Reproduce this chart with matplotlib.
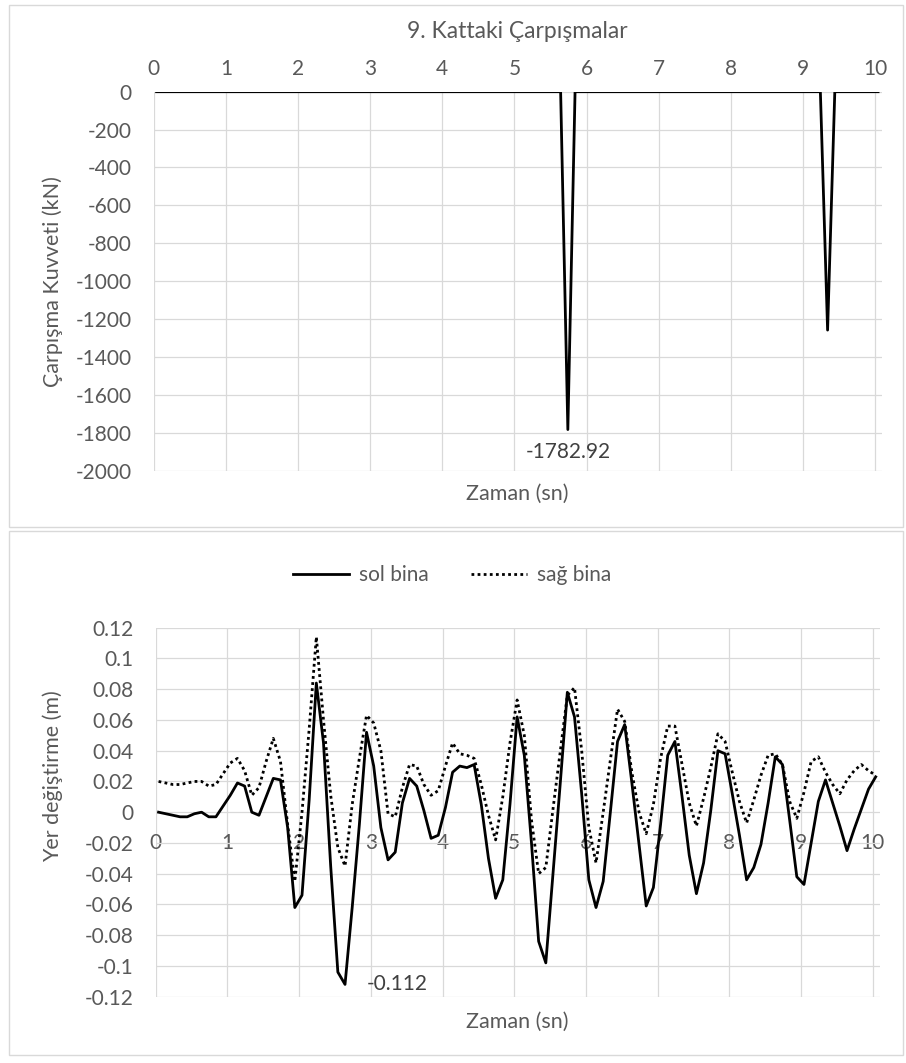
import numpy as np
import matplotlib.pyplot as plt
from matplotlib.patches import Rectangle
from matplotlib.lines import Line2D

plt.rcParams['font.family'] = ['Lato', 'DejaVu Sans']
plt.rcParams['axes.unicode_minus'] = False

# sample times (s), one sample every 0.1 s
zaman = np.round(0.04 + 0.1 * np.arange(101), 2)

# collision force at floor 9 (kN): zero except the two impacts
kuvvet = [0.0] * 57 + [-1782.92] + [0.0] * 35 + [-1258.0] + [0.0] * 7

# displacements (m)
sol_bina = [
    0.000, -0.001, -0.002, -0.003, -0.003, -0.001, 0.000, -0.003, -0.003, 0.004,
    0.011, 0.019, 0.017, 0.000, -0.002, 0.010, 0.022, 0.021, -0.010, -0.062,
    -0.054, 0.008, 0.084, 0.045, -0.035, -0.104, -0.112, -0.062, -0.008, 0.052,
    0.030, -0.010, -0.031, -0.026, 0.006, 0.022, 0.017, 0.001, -0.017, -0.015,
    0.003, 0.026, 0.030, 0.029, 0.031, 0.005, -0.030, -0.056, -0.044, 0.005,
    0.062, 0.037, -0.020, -0.084, -0.098, -0.040, 0.018, 0.078, 0.062, 0.012,
    -0.044, -0.062, -0.045, 0.000, 0.046, 0.057, 0.019, -0.021, -0.061, -0.049,
    -0.008, 0.037, 0.046, 0.010, -0.028, -0.053, -0.033, 0.001, 0.040, 0.038,
    0.012, -0.015, -0.044, -0.036, -0.021, 0.006, 0.036, 0.031, -0.005, -0.042,
    -0.047, -0.020, 0.007, 0.021, 0.006, -0.009, -0.025, -0.011, 0.002, 0.015,
    0.023,
]
sag_bina = [
    0.020, 0.019, 0.018, 0.018, 0.019, 0.020, 0.020, 0.017, 0.018, 0.025,
    0.032, 0.035, 0.027, 0.011, 0.016, 0.033, 0.048, 0.033, -0.008, -0.045,
    0.000, 0.054, 0.114, 0.060, 0.011, -0.023, -0.035, 0.005, 0.035, 0.063,
    0.058, 0.040, -0.001, -0.003, 0.016, 0.031, 0.030, 0.018, 0.011, 0.014,
    0.030, 0.045, 0.038, 0.037, 0.035, 0.018, -0.002, -0.018, 0.010, 0.045,
    0.073, 0.050, -0.005, -0.040, -0.036, 0.002, 0.039, 0.076, 0.081, 0.040,
    -0.010, -0.033, 0.000, 0.034, 0.067, 0.059, 0.026, 0.000, -0.014, 0.005,
    0.035, 0.056, 0.056, 0.031, 0.006, -0.009, 0.009, 0.029, 0.051, 0.046,
    0.026, 0.007, -0.007, 0.008, 0.024, 0.037, 0.038, 0.031, 0.007, -0.004,
    0.013, 0.033, 0.036, 0.026, 0.018, 0.012, 0.021, 0.027, 0.031, 0.027,
    0.024,
]

x_ticks = list(range(11))
kuvvet_ticks = list(range(-2000, 1, 200))
yer_ticks = [-0.12, -0.1, -0.08, -0.06, -0.04, -0.02, 0, 0.02, 0.04, 0.06, 0.08, 0.1, 0.12]
yer_labels = ['-0.12', '-0.1', '-0.08', '-0.06', '-0.04', '-0.02', '0',
              '0.02', '0.04', '0.06', '0.08', '0.1', '0.12']

GRAY = '#595959'
GRID = '#D9D9D9'
TICK_FS = 15
LABEL_FS = 15.5
W, H = 906, 1063


def box(x0, y0, x1, y1):
    return [x0 / W, 1 - y1 / H, (x1 - x0) / W, (y1 - y0) / H]


fig = plt.figure(figsize=(W / 100, H / 100), dpi=100)

# panel frames
for y0, y1 in [(5, 527), (531, 1055)]:
    fig.patches.append(Rectangle((9 / W, 1 - y1 / H), 894 / W, (y1 - y0) / H,
                                 transform=fig.transFigure, fill=False,
                                 ec=GRID, lw=1))

# top chart: collision force
ax1 = fig.add_axes(box(153.7, 91.7, 881.7, 470.7))
ax1.plot(zaman, kuvvet, color='black', lw=2)
ax1.set_xlim(0, 10.09)
ax1.set_ylim(-2000, 0)
ax1.set_xticks(x_ticks)
ax1.set_yticks(kuvvet_ticks)
ax1.xaxis.tick_top()
ax1.grid(color=GRID, lw=0.9)
ax1.set_axisbelow(True)
for s in ax1.spines.values():
    s.set_visible(False)
ax1.tick_params(length=0, labelsize=TICK_FS, colors=GRAY)
ax1.tick_params(axis='y', pad=16)
ax1.tick_params(axis='x', pad=9)
ax1.annotate('-1782.92', xy=(zaman[57], kuvvet[57]), xytext=(0, -16),
             textcoords='offset points', ha='center', va='center',
             fontsize=TICK_FS, color='#404040')

fig.text(517 / W, 1 - 32 / H, '9. Kattaki Çarpışmalar', ha='center', va='center',
         fontsize=16.5, color=GRAY)
fig.text(517 / W, 1 - 494 / H, 'Zaman (sn)', ha='center', va='center',
         fontsize=LABEL_FS, color=GRAY)
fig.text(53 / W, 1 - 282 / H, 'Çarpışma Kuvveti (kN)', ha='center', va='center',
         rotation=90, fontsize=LABEL_FS, color=GRAY)

# bottom chart: displacements
ax2 = fig.add_axes(box(155.7, 627.7, 880, 996.7))
ax2.plot(zaman, sol_bina, color='black', lw=2, label='sol bina')
ax2.plot(zaman, sag_bina, color='black', lw=2, ls=(0, (1, 1.2)), label='sağ bina')
ax2.set_xlim(0, 10.1)
ax2.set_ylim(-0.12, 0.12)
ax2.set_xticks(x_ticks)
ax2.set_yticks(yer_ticks)
ax2.set_yticklabels(yer_labels)
ax2.grid(color=GRID, lw=0.9)
ax2.set_axisbelow(True)
for s in ax2.spines.values():
    s.set_color('none')
ax2.spines['bottom'].set_position(('data', 0))
ax2.tick_params(length=0, labelsize=TICK_FS, colors=GRAY)
ax2.tick_params(axis='y', pad=16)
ax2.tick_params(axis='x', pad=15)
ax2.annotate('-0.112', xy=(zaman[26], sol_bina[26]), xytext=(16, 0),
             textcoords='offset points', ha='left', va='center',
             fontsize=TICK_FS, color='#404040')

fig.text(517 / W, 1 - 1022 / H, 'Zaman (sn)', ha='center', va='center',
         fontsize=LABEL_FS, color=GRAY)
fig.text(53 / W, 1 - 776 / H, 'Yer değiştirme (m)', ha='center', va='center',
         rotation=90, fontsize=LABEL_FS, color=GRAY)

handles = [Line2D([], [], color='black', lw=2),
           Line2D([], [], color='black', lw=2, ls=(0, (1, 1.2)))]
leg = fig.legend(handles, ['sol bina', 'sağ bina'], loc='center',
                 bbox_to_anchor=(452 / W, 1 - 575 / H), ncol=2, frameon=False,
                 fontsize=TICK_FS, handlelength=2.7, columnspacing=2.0,
                 handletextpad=0.5)
for t in leg.get_texts():
    t.set_color(GRAY)

fig.savefig('out.png', dpi=100)
